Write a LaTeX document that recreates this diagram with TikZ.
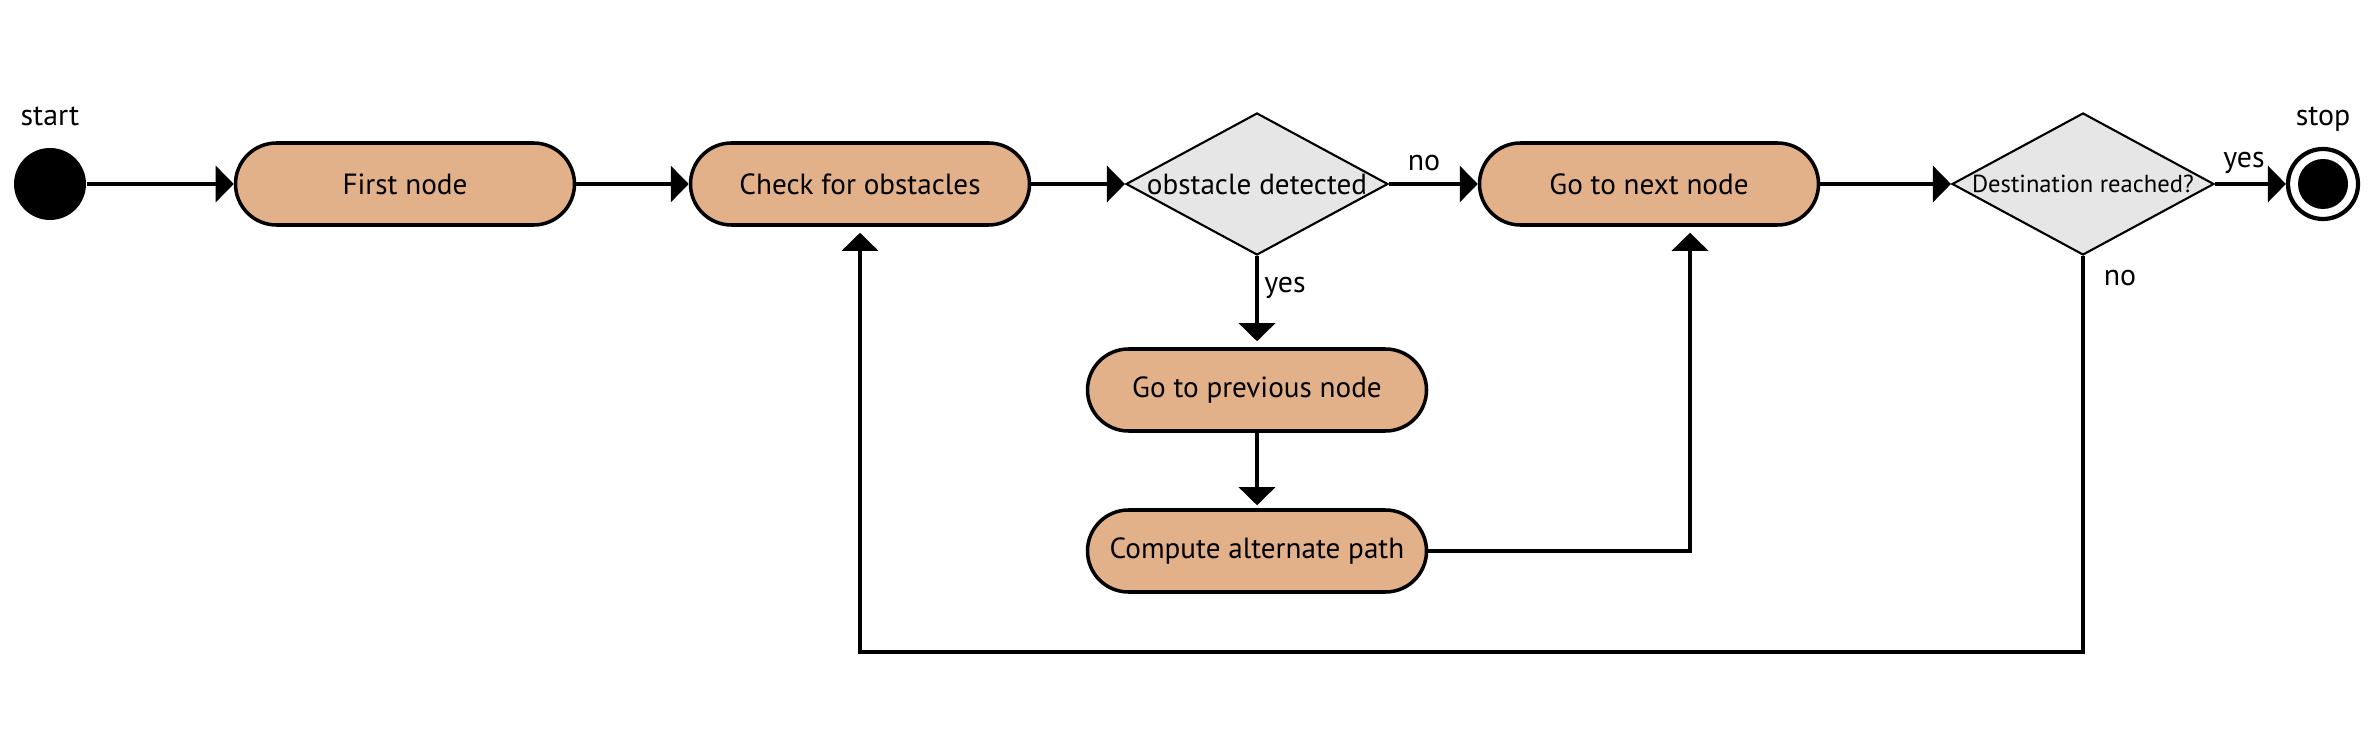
\documentclass[tikz,border=0pt]{standalone}
\usepackage{fontspec}
\setmainfont{PT Sans}
\usetikzlibrary{shapes.geometric,arrows.meta}
\definecolor{actfill}{RGB}{227,177,137}
\definecolor{decfill}{RGB}{230,230,231}

\begin{document}
\begin{tikzpicture}[
  act/.style={draw, line width=1pt, fill=actfill, rounded corners=0.41cm,
    minimum width=3.39cm, minimum height=0.82cm, inner sep=0pt},
  dec/.style={draw, line width=0.6pt, fill=decfill, diamond, aspect=1.845,
    minimum width=2.62cm, minimum height=1.42cm, inner sep=0pt},
  flow/.style={line width=0.9pt, -{Triangle[length=0.18cm,width=0.36cm]}},
  lbl/.style={font=\fontsize{8.5}{10}\selectfont}
]
\useasboundingbox (0,0) rectangle (23.73,7.53);
\fontsize{8.3}{10}\selectfont
% start and stop
\node[circle, fill=black, minimum size=0.72cm, inner sep=0pt] (start) at (0.50,5.69) {};
\node[lbl, anchor=base] (startlbl) at (0.50,6.27) {start};
\node[circle, draw, line width=1.2pt, minimum size=0.70cm, inner sep=0pt] (stop) at (23.23,5.69) {};
\node[circle, fill=black, minimum size=0.50cm, inner sep=0pt] (stopdot) at (stop) {};
\node[lbl, anchor=base] (stoplbl) at (23.23,6.27) {stop};
% main row
\node[act] (first) at (4.05,5.69) {First node};
\node[act] (check) at (8.60,5.69) {Check for obstacles};
\node[dec, label={center:obstacle detected}] (obst) at (12.57,5.69) {};
\node[act] (next) at (16.49,5.69) {Go to next node};
\node[dec, label={center:\fontsize{7}{8}\selectfont Destination reached?}] (dest) at (20.83,5.69) {};
% detour
\node[act] (prev) at (12.57,3.63) {Go to previous node};
\node[act] (alt) at (12.57,2.02) {Compute alternate path};
\coordinate (altc) at (16.90,2.02);
\coordinate (back) at (8.60,1.01);

\draw[flow] (start) -- (first);
\draw[flow] (first) -- (check);
\draw[flow] (check) -- (obst);
\draw[flow] (obst) -- (next);
\draw[flow] (next) -- (dest);
\draw[flow] (dest) -- (stop);
\draw[flow, shorten >=0.06cm] (obst) -- (prev);
\draw[flow, shorten >=0.03cm] (prev) -- (alt);
\draw[flow, shorten >=0.06cm] (alt) -- (altc) -- (altc |- next.south);
\draw[flow, shorten >=0.06cm] (dest) |- (back) -- (check);

\node[lbl] (nolbl) at (14.24,5.90) {no};
\node[lbl] (yeslbl) at (12.85,4.65) {yes};
\node[lbl] (yes2lbl) at (22.44,5.90) {yes};
\node[lbl] (no2lbl) at (21.20,4.75) {no};
\end{tikzpicture}
\end{document}
